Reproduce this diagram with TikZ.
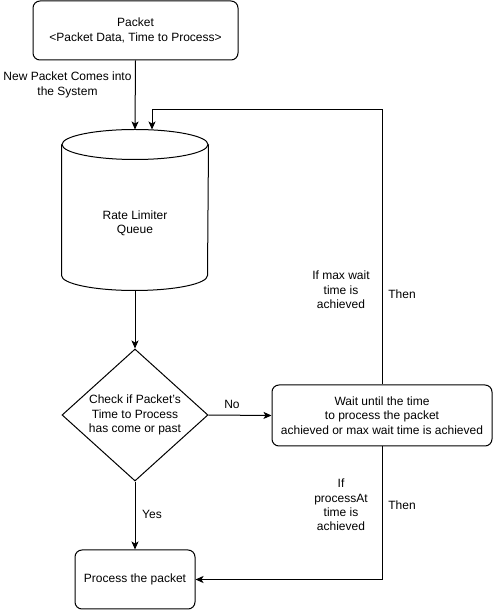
\documentclass[tikz,border=0pt]{standalone}
\usepackage{fontspec}
\setmainfont{Liberation Sans}
\usetikzlibrary{arrows.meta,positioning,shapes.geometric}

\begin{document}
\begin{tikzpicture}[
    x=1pt, y=1pt,
    font=\fontsize{12}{14.4}\selectfont,
    line width=1pt,
    >={Stealth[length=8pt,width=7pt,inset=2pt]},
    box/.style={draw, rounded corners=7pt, inner sep=0pt, align=center},
    decision/.style={draw, diamond, inner sep=0pt, minimum width=146pt, minimum height=130pt, align=center},
    store/.style={inner sep=0pt, minimum width=146pt, minimum height=160pt},
    lbl/.style={inner sep=0pt, align=center}
]
\useasboundingbox (0,0) rectangle (493,611);

% Packet
\node[box, minimum width=205pt, minimum height=59pt] (packet) at (135.5,580.5) {Packet\\<Packet Data, Time to Process>};

% Queue (cylinder)
\node[store] (queue) at (135,401) {};
\draw ([yshift=-15pt]queue.north) ellipse [x radius=73pt, y radius=15pt];
\draw ([yshift=-15pt]queue.north west) -- ([yshift=15pt]queue.south west)
    arc[start angle=180, end angle=360, x radius=73pt, y radius=15pt]
    -- ([yshift=-15pt]queue.north east);
\node[lbl] (queue_text) at (135,388) {Rate Limiter\\Queue};

% Decision
\node[decision] (check) at (135,196) {Check if Packet's\\Time to Process\\has come or past};

% Wait
\node[box, minimum width=220pt, minimum height=61pt] (wait) at (382,195.5) {Wait until the time\\to process the packet\\achieved or max wait time is achieved};

% Process
\node[box, minimum width=120pt, minimum height=59pt] (process) at (135,31.5) {Process the packet};

% Connections
\draw[->] (packet.south) -- (queue.north);
\draw[->] (queue.south) -- (check.north);
\draw[->] (check.east) -- (wait.west);
\draw[->] (check.south) -- (process.north);
\draw[->] (wait.north) -- (wait.north |- 0,501) -| ([xshift=17pt]queue.north);
\draw[->] (wait.south) |- (process.east);

% Labels
\node[lbl] (new_lbl) at (67.5,526) {New Packet Comes into\\the System};
\node[lbl] (no_lbl) at (232,207) {No};
\node[lbl] (yes_lbl) at (152,97) {Yes};
\node[lbl] (max_lbl) at (341,321) {If max wait\\time is\\achieved};
\node[lbl] (then_top) at (402,317) {Then};
\node[lbl] (at_lbl) at (341,106) {If\\processAt\\time is\\achieved};
\node[lbl] (then_bot) at (402,106) {Then};

\end{tikzpicture}
\end{document}
